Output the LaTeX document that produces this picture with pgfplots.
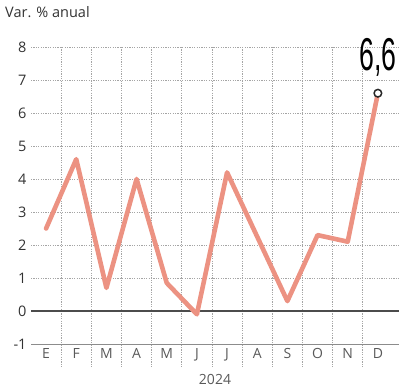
\documentclass[border=0pt]{standalone}
\usepackage{pgfplots}
\pgfplotsset{compat=1.18}
\usepackage{fontspec}
\setmainfont{Open Sans}
\newfontfamily\condfont[FakeStretch=0.58]{Liberation Sans}
\definecolor{salmon}{RGB}{236,146,130}
\definecolor{gridc}{RGB}{165,165,165}
\definecolor{txt}{RGB}{50,50,50}
\begin{document}
\begin{tikzpicture}[x=1pt,y=1pt]
\begin{axis}[
  at={(31pt,43pt)}, anchor=south west,
  scale only axis, width=368pt, height=297pt,
  xmin=-0.5, xmax=11.7, ymin=-1, ymax=8,
  clip=false,
  axis line style={draw=none},
  tick style={draw=none},
  xtick={0,...,11},
  xticklabels={E,F,M,A,M,J,J,A,S,O,N,D},
  ytick={-1,0,...,8},
  yticklabel style={font=\fontsize{14.5}{16}\selectfont, text=txt, xshift=-1pt},
  xticklabel style={font=\fontsize{14}{16}\selectfont, text=black!65, yshift=-1pt},
  /pgf/number format/assume math mode=true,
  xlabel={2024},
  xlabel style={font=\fontsize{14}{16}\selectfont, text=black!65, yshift=-6pt},
]
% vertical dotted gridlines
\pgfplotsinvokeforeach{0.5,1.5,2.5,3.5,4.5,5.5,6.5,7.5,8.5,9.5,10.5}{
  \draw[gridc, line width=0.8pt, dash pattern=on 1.2pt off 1.2pt] (axis cs:#1,8) -- (axis cs:#1,-1.7);
}
% horizontal dotted gridlines
\pgfplotsinvokeforeach{1,2,3,4,5,6,7,8}{
  \draw[gridc, line width=0.8pt, dash pattern=on 1.2pt off 1.2pt] (axis cs:-0.5,#1) -- (axis cs:11.7,#1);
}
\draw[black!45, line width=0.8pt] (axis cs:-0.5,-1) -- (axis cs:11.7,-1);
\draw[black!70, line width=1.2pt] (axis cs:-0.5,0) -- (axis cs:11.7,0);
\addplot[salmon, line width=4.6pt, line join=round, line cap=round] coordinates {
  (0,2.5) (1,4.6) (2,0.7) (3,4.0) (4,0.85) (5,-0.1) (6,4.2) (7,2.25) (8,0.3) (9,2.3) (10,2.1) (11,6.6)
};
\addplot[only marks, mark=*, mark size=3.8pt, mark options={fill=white, draw=black!85, line width=1.5pt}] coordinates {(11,6.6)};
\node[anchor=south, inner sep=0pt, font=\condfont\fontsize{46}{48}\selectfont] at (axis cs:11.0,7.1) {6,6};
\end{axis}
\node[anchor=north west, inner sep=0pt, font=\fontsize{14.5}{16}\selectfont, text=txt] at (5pt,381pt) {Var. \% anual};
\pgfresetboundingbox
\useasboundingbox (0,0) rectangle (400pt,387pt);
\end{tikzpicture}
\end{document}
